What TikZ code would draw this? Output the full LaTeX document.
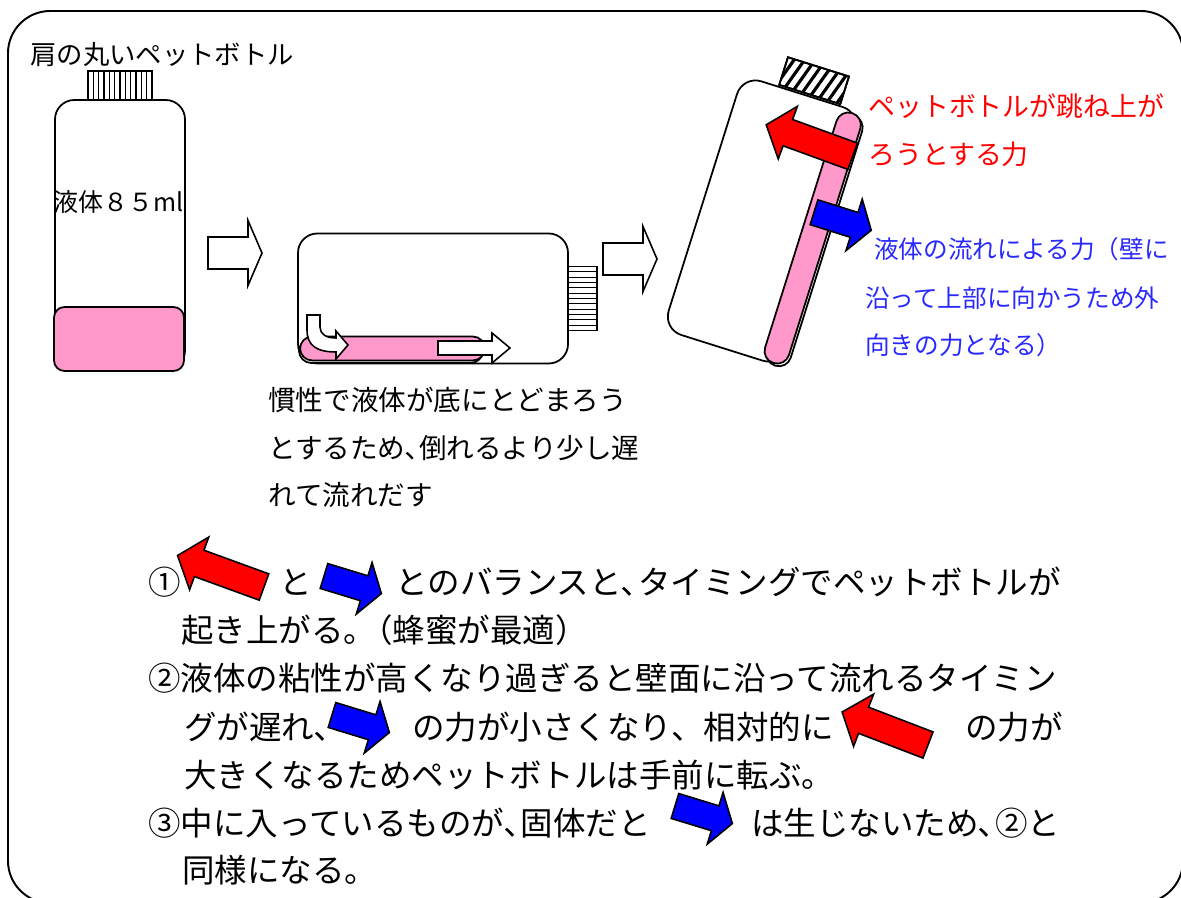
\documentclass[tikz,border=0pt]{standalone}
\usepackage{fontspec}
\setmainfont{Noto Sans CJK JP}
\usetikzlibrary{positioning}

\definecolor{syrup}{HTML}{FF99CC}
\definecolor{forceblue}{RGB}{40,40,255}

\tikzset{
  pics/bottlebody/.style={code={
    \draw[line width=1pt, fill=white, rounded corners=11pt] (-65,-135) rectangle (65,135);
  }},
  pics/stripedcap/.style={code={
    \draw[line width=1pt, fill=white] (-32,-164) rectangle (32,-135);
    \foreach \n in {1,...,11}
      \draw[line width=0.6pt] ({-32+\n*64/12},-164) -- ({-32+\n*64/12},-135);
  }},
  % red push: tail at origin, pointing left
  pics/liftforce/.style={code={
    \draw[line width=0.9pt, fill=red] (0,-14) -- (-69,-14) -- (-69,-28) -- (-92,0)
      -- (-69,28) -- (-69,14) -- (0,14) -- cycle;
  }},
  % blue push: tail at origin, pointing right
  pics/flowforce/.style={code={
    \draw[line width=0.9pt, fill=blue] (0,-13) -- (42,-13) -- (42,-27) -- (60,0)
      -- (42,27) -- (42,13) -- (0,13) -- cycle;
  }},
  pics/nextstep/.style={code={
    \draw[line width=0.9pt, fill=white] (0,-16) -- (40,-16) -- (40,-32.5) -- (54,0)
      -- (40,32.5) -- (40,16) -- (0,16) -- cycle;
  }},
}

\begin{document}
\begin{tikzpicture}[x=0.02cm, y=-0.02cm,
    every node/.style={inner sep=0pt, anchor=west},
    tag/.style={font=\fontsize{15pt}{18pt}\selectfont},
    volume/.style={font=\fontsize{14.2pt}{17pt}\selectfont},
    caption/.style={font=\fontsize{15.7pt}{19pt}\selectfont},
    liftnote/.style={text=red, font=\fontsize{15.3pt}{18pt}\selectfont},
    flownote/.style={text=forceblue, font=\fontsize{14pt}{17pt}\selectfont},
    remark/.style={font=\fontsize{18.5pt}{22pt}\selectfont}]

\useasboundingbox (0,0) rectangle (1181,898);
\clip (0,0) rectangle (1181,898);
\draw[line width=1.1pt, rounded corners=24pt] (8,11) rectangle (1183,903);

% standing bottle
\node[tag] (shoulder) at (30,55) {肩の丸いペットボトル};
\begin{scope}[shift={(120,235)}]
  \pic {stripedcap};
  \pic {bottlebody};
  \draw[line width=1pt, fill=syrup, rounded corners=6pt] (-66,72) rectangle (64,136);
\end{scope}
\node[volume] (volume) at (53,202) {液体８５ml};

\pic at (208,253) {nextstep};

% bottle lying down
\begin{scope}[shift={(433,298.5)}, rotate=-90, transform shape]
  \pic {stripedcap};
  \pic {bottlebody};
  \draw[line width=1pt, fill=white, rounded corners=7pt] (40.5,-50) rectangle (64.5,134);
  \draw[line width=1pt, fill=syrup, rounded corners=7pt] (38,-52) rectangle (62,133);
\end{scope}
\draw[line width=0.9pt, fill=white] (307,315) -- (320,315) -- (320,327)
  .. controls (320,334) and (326,338) .. (336,338) -- (336,331) -- (348,345)
  -- (336,359) -- (336,352) .. controls (316,352) and (307,345) .. (307,330) -- cycle;
\draw[line width=0.9pt, fill=white] (438,341) -- (492,341) -- (492,333) -- (510,348)
  -- (492,363) -- (492,355) -- (438,355) -- cycle;

\node[caption] (lag1) at (268,400) {慣性で液体が底にとどまろう};
\node[caption] (lag2) at (268,448) {とするため､倒れるより少し遅};
\node[caption] (lag3) at (268,495) {れて流れだす};

\pic at (603,259) {nextstep};

% bottle rising again
\begin{scope}[shift={(762,221)}, rotate=-17.5, transform shape]
  \draw[line width=1pt, fill=white] (-24.5,-164) rectangle (39.5,-135);
  \begin{scope}
    \clip (-24.5,-164) rectangle (39.5,-135);
    \foreach \h in {-36,-27,...,45}
      \draw[line width=1.8pt] (\h,-135) -- ++(9.4,-29);
  \end{scope}
  \draw[line width=1pt] (-24.5,-164) rectangle (39.5,-135);
  \draw[line width=1pt, fill=white, rounded corners=11pt] (-62,-133) rectangle (62,133);
  \draw[line width=1pt, fill=white, rounded corners=7pt] (43.5,-128) rectangle (68.5,134);
  \draw[line width=1pt, fill=syrup, rounded corners=7pt] (41,-130) rectangle (66,132);
  \pic[rotate=-2.5] at (67,-89) {liftforce};
  \pic at (47,-24) {flowforce};
\end{scope}

\node[liftnote] (lift1) at (868,106) {ペットボトルが跳ね上が};
\node[liftnote] (lift2) at (868,154) {ろうとする力};
\node[flownote] (flow1) at (874,249) {液体の流れによる力（壁に};
\node[flownote] (flow2) at (865,298) {沿って上部に向かうため外};
\node[flownote] (flow3) at (865,345) {向きの力となる）};

% notes
\node[remark] (r1) at (148,582) {①};
\pic[rotate=-20] at (264,587) {liftforce};
\node[remark] (r1b) at (279,582) {と};
\pic[rotate=-17] at (324,576) {flowforce};
\node[remark] (r1c) at (395,582) {とのバランスと､タイミングでペットボトルが};
\node[remark] (r2) at (181,630) {起き上がる。\kern-0.5em（蜂蜜が最適）};
\node[remark] (r3) at (148,678) {②液体の粘性が高くなり過ぎると壁面に沿って流れるタイミン};
\node[remark] (r4) at (184,727) {グが遅れ､};
\pic[rotate=-17] at (332,715) {flowforce};
\node[remark] (r4b) at (412,727) {の力が小さくなり、相対的に};
\pic[rotate=-21] at (928,745) {liftforce};
\node[remark] (r4c) at (965,727) {の力が};
\node[remark] (r5) at (184,775) {大きくなるためペットボトルは手前に転ぶ。};
\node[remark] (r6) at (148,823) {③中に入っているものが､固体だと};
\pic[rotate=-17] at (675,806) {flowforce};
\node[remark] (r6b) at (751,823) {は生じないため､②と};
\node[remark] (r7) at (182,870) {同様になる。};

\end{tikzpicture}
\end{document}
